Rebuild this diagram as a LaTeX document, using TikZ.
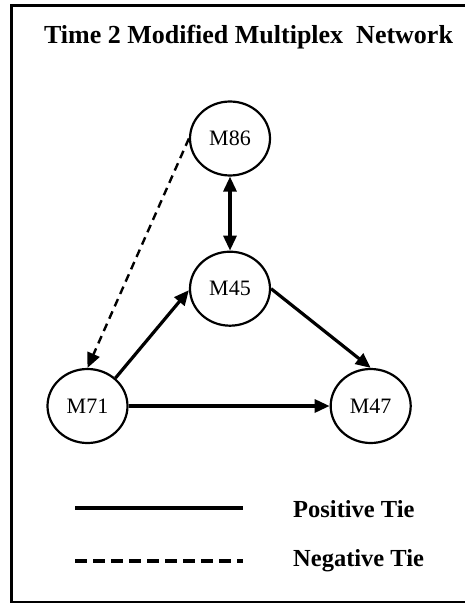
\documentclass[tikz,border=0pt]{standalone}
\usepackage{fontspec}
\setmainfont{Liberation Serif}
\usetikzlibrary{shapes.geometric, arrows.meta, positioning}

\begin{document}
\begin{tikzpicture}[
      x=1pt, y=-1pt,
      actor/.style={ellipse, draw, line width=2.2pt, minimum width=80pt, minimum height=74pt, inner sep=0pt, font=\fontsize{22}{24}\selectfont},
      postie/.style={-{Triangle[length=15pt, width=13pt]}, line width=3.2pt},
      negtie/.style={-{Triangle[length=15pt, width=13pt]}, line width=2.4pt, dash pattern=on 8pt off 5.5pt},
      key/.style={anchor=west, inner sep=0pt, font=\bfseries\fontsize{24.5}{26}\selectfont}
    ]
    \useasboundingbox (0,0) rectangle (465,605);
    % frame, open on the right
    \draw[line width=2.4pt] (465,5.5) -- (11.5,5.5) -- (11.5,602) -- (465,602);

    \node[font=\bfseries\fontsize{26}{28}\selectfont] (title) at (248.5,37) {Time 2 Modified Multiplex\ \ Network};

    \node[actor] (m86) at (230,138.5) {M86};
    \node[actor, below=74pt of m86] (m45) {M45};
    \node[actor] (m71) at (87.5,406) {M71};
    \node[actor, right=201pt of m71] (m47) {M47};

    \draw[postie, {Triangle[length=15pt, width=13pt]}-{Triangle[length=15pt, width=13pt]}] (m86) -- (m45);
    \draw[postie] (m71.45) -- (m45.182);
    \draw[postie] (m45.east) -- (m47.north);
    \draw[postie] (m71) -- (m47);
    \draw[negtie] (m86.west) -- (m71.north);

    % key
    \coordinate (posA) at (75,508);
    \coordinate (posB) at (243,508);
    \coordinate (negA) at (75,561);
    \coordinate (negB) at (243,561);
    \draw[line width=3.2pt] (posA) -- (posB);
    \draw[line width=3.2pt, dash pattern=on 11.5pt off 6.5pt] (negA) -- (negB);
    \node[key] (posLabel) at (293,509) {Positive Tie};
    \node[key] (negLabel) at (293,561) {Negative Tie};
  \end{tikzpicture}
\end{document}
